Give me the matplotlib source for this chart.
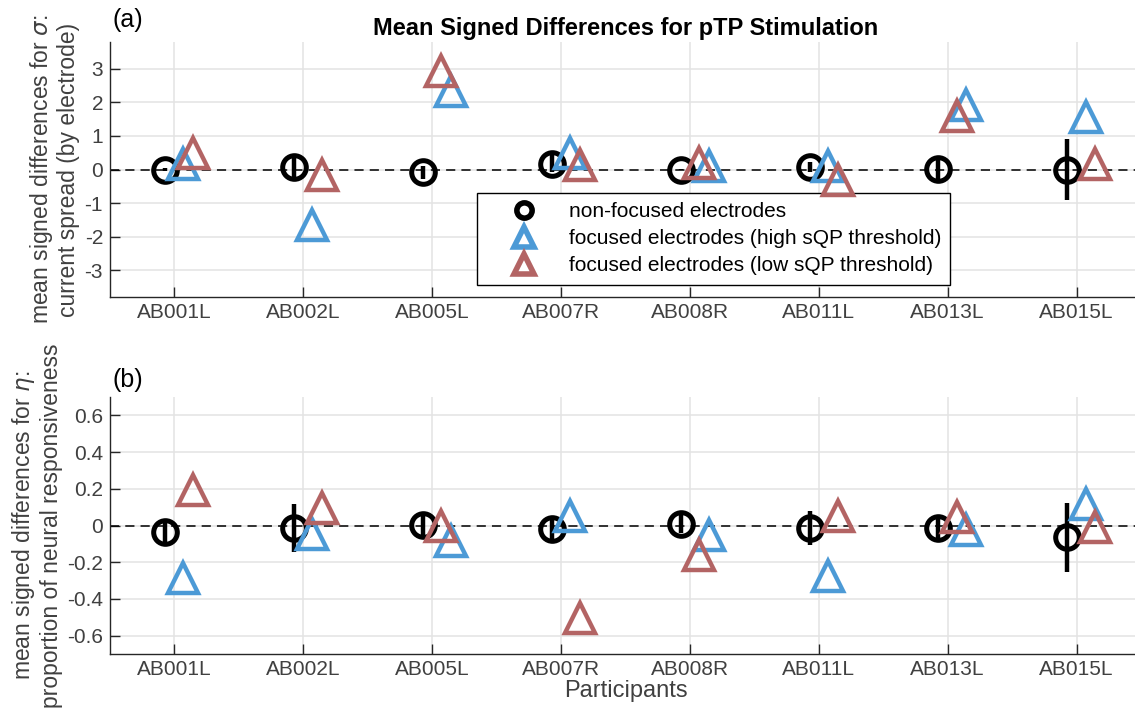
import numpy as np
import matplotlib
matplotlib.use("Agg")
import matplotlib.pyplot as plt

plt.rcParams['font.family'] = ['Liberation Sans', 'DejaVu Sans']
plt.rcParams['axes.unicode_minus'] = False

participants = ['AB001L', 'AB002L', 'AB005L', 'AB007R', 'AB008R', 'AB011L', 'AB013L', 'AB015L']
# which focused series sits nearest the tick (1 = high threshold first, 0 = low first)
high_first = [1, 1, 0, 1, 0, 1, 0, 1]

# (a) sigma: current spread
sig_nf = [0.0, 0.07, -0.08, 0.17, 0.0, 0.07, 0.02, 0.0]
sig_nf_err = [0.04, 0.35, 0.2, 0.25, 0.02, 0.15, 0.35, 0.9]
sig_high = [0.15, -1.65, 2.35, 0.5, 0.1, 0.1, 1.92, 1.57]
sig_low = [0.5, -0.17, 2.95, 0.13, 0.2, -0.3, 1.59, 0.17]

# (b) eta: neural responsiveness
eta_nf = [-0.033, -0.015, 0.004, -0.02, 0.007, -0.015, -0.011, -0.065]
eta_nf_err = [0.06, 0.13, 0.065, 0.065, 0.05, 0.093, 0.065, 0.19]
eta_high = [-0.285, -0.044, -0.085, 0.05, -0.053, -0.276, -0.025, 0.119]
eta_low = [0.193, 0.095, -0.004, -0.505, -0.158, 0.054, 0.047, -0.01]

labels = ['non-focused electrodes',
          'focused electrodes (high sQP threshold)',
          'focused electrodes (low sQP threshold)']

blue = '#4C9AD6'
red = '#B36464'
txtc = '#404040'

x = np.arange(1, len(participants) + 1)
hf = np.array(high_first)
x_high = x + np.where(hf == 1, 0.07, 0.145)
x_low = x + np.where(hf == 1, 0.145, 0.07)

fig = plt.figure(figsize=(11.35, 7.15), dpi=100)
ax1 = fig.add_axes([0.0969, 0.5846, 0.9084, 0.3566])
ax2 = fig.add_axes([0.0969, 0.0853, 0.9084, 0.3594])


def draw(ax, nf, nf_err, high, low):
    ax.axhline(0, color='k', ls=(0, (6, 4)), lw=1.1, zorder=1)
    ax.errorbar(x - 0.072, nf, yerr=nf_err, fmt='none', ecolor='k', elinewidth=3.2, capsize=0, zorder=3)
    h0, = ax.plot(x - 0.072, nf, 'o', ms=17, mfc='none', mec='k', mew=3.6, zorder=4, label=labels[0])
    h1, = ax.plot(x_high, high, '^', ms=21, mfc='none', mec=blue, mew=3.2, zorder=5, label=labels[1])
    h2, = ax.plot(x_low, low, '^', ms=21, mfc='none', mec=red, mew=3.2, zorder=6, label=labels[2])
    ax.set_xlim(0.5, 8.5)
    ax.set_xticks(x)
    ax.set_xticklabels(participants)
    ax.grid(True, color='#e3e3e3', lw=1.1)
    ax.set_axisbelow(True)
    for s in ['top', 'right']:
        ax.spines[s].set_visible(False)
    for s in ['left', 'bottom']:
        ax.spines[s].set_color('#262626')
        ax.spines[s].set_linewidth(1.0)
    ax.tick_params(direction='in', length=7, width=1.0, colors='#262626',
                   labelcolor=txtc, labelsize=15)
    ax.tick_params(axis='x', pad=4)
    ax.tick_params(axis='y', pad=5)
    return h0, h1, h2


handles = draw(ax1, sig_nf, sig_nf_err, sig_high, sig_low)
ax1.set_ylim(-3.8, 3.8)
ax1.set_yticks([-3, -2, -1, 0, 1, 2, 3])
ax1.set_title('Mean Signed Differences for pTP Stimulation', fontsize=17, fontweight='bold', pad=5)
ax1.set_ylabel('mean signed differences for $\\sigma$:\ncurrent spread (by electrode)',
               fontsize=16.5, color=txtc, labelpad=3, linespacing=1.15)
ax1.text(112 / 1135, 1 - 20 / 715, '(a)', transform=fig.transFigure, fontsize=18, va='center', ha='left')

draw(ax2, eta_nf, eta_nf_err, eta_high, eta_low)
ax2.set_ylim(-0.7, 0.7)
ax2.set_yticks([-0.6, -0.4, -0.2, 0, 0.2, 0.4, 0.6])
ax2.set_yticklabels(['-0.6', '-0.4', '-0.2', '0', '0.2', '0.4', '0.6'])
ax2.set_ylabel('mean signed differences for $\\eta$:\nproportion of neural responsiveness',
               fontsize=16.5, color=txtc, labelpad=3, linespacing=1.15)
ax2.set_xlabel('Participants', fontsize=17, color=txtc, labelpad=1)
ax2.text(112 / 1135, 1 - 380 / 715, '(b)', transform=fig.transFigure, fontsize=18, va='center', ha='left')

leg = ax1.legend(handles=handles, loc='upper left', bbox_to_anchor=(477 / 1135, 1 - 193 / 715),
                 bbox_transform=fig.transFigure, borderaxespad=0, fancybox=False,
                 edgecolor='k', framealpha=1, fontsize=15,
                 handlelength=3.6, handletextpad=0.35, labelspacing=0.38, borderpad=0.45)
leg.get_frame().set_linewidth(1.0)
lh = leg.legend_handles
lh[0].set_markersize(11)
lh[0].set_markeredgewidth(4)
lh[1].set_markersize(15)
lh[1].set_markeredgewidth(4)
lh[2].set_markersize(15)
lh[2].set_markeredgewidth(4)

fig.savefig('out.png', dpi=100)
